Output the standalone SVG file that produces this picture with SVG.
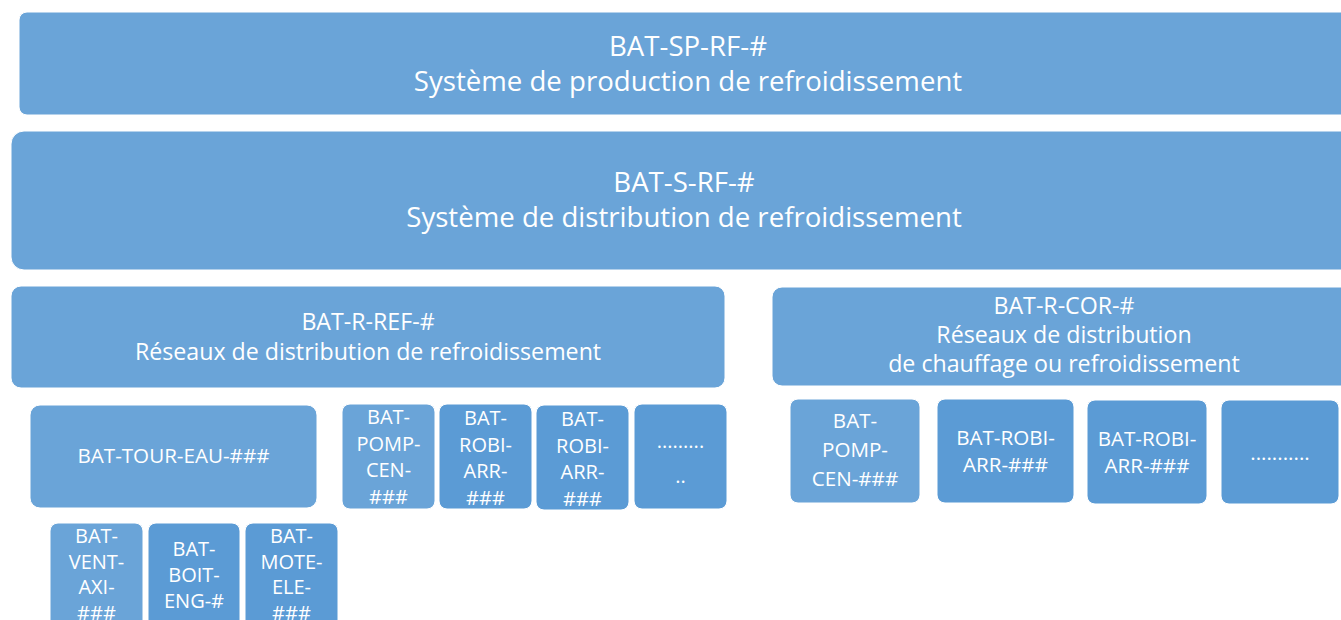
<svg xmlns="http://www.w3.org/2000/svg" width="1341" height="620" viewBox="0 0 1341 620">
<style>
.l{fill:#6aa4d8;stroke:#ffffff;stroke-width:1}
.d{fill:#5b9bd5;stroke:#ffffff;stroke-width:1}
text{font-family:"Open Sans","Liberation Sans",sans-serif;fill:#ffffff;text-anchor:middle}
.t1{font-size:27.6px}
.t2{font-size:23.2px}
.t4{font-size:20.6px}
.t3{font-size:20px}
</style>
<rect width="1341" height="620" fill="#ffffff"/>
<g id="connectors"/>
<g id="sp-rf">
<rect class="l" x="19" y="12" width="1338" height="103" rx="8"/>
<text class="t1" x="688" y="55.5">BAT-SP-RF-#</text>
<text class="t1" x="688" y="90.5">Système de production de refroidissement</text>
</g>
<g id="s-rf">
<rect class="l" x="11" y="131" width="1346" height="139" rx="13"/>
<text class="t1" x="684" y="192">BAT-S-RF-#</text>
<text class="t1" x="684" y="227">Système de distribution de refroidissement</text>
</g>
<g id="r-ref">
<rect class="l" x="11" y="286" width="714" height="102" rx="10"/>
<text class="t2" x="368" y="329.5">BAT-R-REF-#</text>
<text class="t2" x="368" y="360">Réseaux de distribution de refroidissement</text>
</g>
<g id="r-cor">
<rect class="l" x="772" y="287" width="585" height="99" rx="10"/>
<text class="t2" x="1064" y="314">BAT-R-COR-#</text>
<text class="t2" x="1064" y="343">Réseaux de distribution</text>
<text class="t2" x="1064" y="372">de chauffage ou refroidissement</text>
</g>
<g id="tour-eau">
<rect class="l" x="30" y="405" width="287" height="103" rx="10"/>
<text class="t4" x="173.5" y="463">BAT-TOUR-EAU-###</text>
</g>
<g id="pomp-cen-1">
<rect class="l" x="342" y="404" width="93" height="105" rx="8"/>
<text class="t3" x="388.5" y="424">BAT-</text>
<text class="t3" x="388.5" y="450.5">POMP-</text>
<text class="t3" x="388.5" y="477">CEN-</text>
<text class="t3" x="388.5" y="503.5">###</text>
</g>
<g id="robi-arr-1">
<rect class="d" x="439" y="404" width="93" height="105" rx="8"/>
<text class="t3" x="485.5" y="425">BAT-</text>
<text class="t3" x="485.5" y="451.5">ROBI-</text>
<text class="t3" x="485.5" y="478">ARR-</text>
<text class="t3" x="485.5" y="504.5">###</text>
</g>
<g id="robi-arr-2">
<rect class="d" x="536" y="405" width="93" height="105" rx="8"/>
<text class="t3" x="582.5" y="426">BAT-</text>
<text class="t3" x="582.5" y="452.5">ROBI-</text>
<text class="t3" x="582.5" y="479">ARR-</text>
<text class="t3" x="582.5" y="505.5">###</text>
</g>
<g id="dots-1">
<rect class="d" x="634" y="404" width="93" height="105" rx="8"/>
<text class="t3" x="680.5" y="447.5">.........</text>
<text class="t3" x="680.5" y="483">..</text>
</g>
<g id="pomp-cen-2">
<rect class="l" x="790" y="399" width="130" height="104" rx="8"/>
<text class="t4" x="855" y="428">BAT-</text>
<text class="t4" x="855" y="457">POMP-</text>
<text class="t4" x="855" y="486">CEN-###</text>
</g>
<g id="robi-arr-3">
<rect class="d" x="937" y="399" width="137" height="104" rx="8"/>
<text class="t4" x="1005.5" y="445">BAT-ROBI-</text>
<text class="t4" x="1005.5" y="472">ARR-###</text>
</g>
<g id="robi-arr-4">
<rect class="d" x="1087" y="400" width="120" height="104" rx="8"/>
<text class="t4" x="1147" y="446">BAT-ROBI-</text>
<text class="t4" x="1147" y="473">ARR-###</text>
</g>
<g id="dots-2">
<rect class="d" x="1221" y="400" width="118" height="104" rx="8"/>
<text class="t4" x="1280" y="460">...........</text>
</g>
<g id="vent-axi">
<rect class="l" x="50" y="523" width="93" height="110" rx="8"/>
<text class="t3" x="96.5" y="543">BAT-</text>
<text class="t3" x="96.5" y="568.5">VENT-</text>
<text class="t3" x="96.5" y="594">AXI-</text>
<text class="t3" x="96.5" y="620">###</text>
</g>
<g id="boit-eng">
<rect class="d" x="148" y="523" width="92" height="110" rx="8"/>
<text class="t3" x="194" y="555.5">BAT-</text>
<text class="t3" x="194" y="581.5">BOIT-</text>
<text class="t3" x="194" y="607.5">ENG-#</text>
</g>
<g id="mote-ele">
<rect class="d" x="245" y="523" width="93" height="110" rx="8"/>
<text class="t3" x="291.5" y="543">BAT-</text>
<text class="t3" x="291.5" y="568.5">MOTE-</text>
<text class="t3" x="291.5" y="594">ELE-</text>
<text class="t3" x="291.5" y="620">###</text>
</g>
</svg>
